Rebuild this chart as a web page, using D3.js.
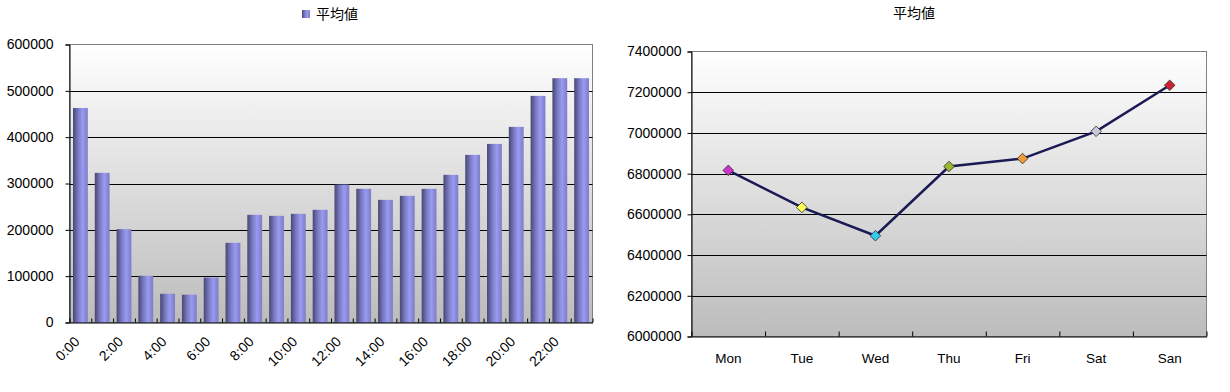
<!DOCTYPE html>
<html>
<head>
<meta charset="utf-8">
<script src="https://cdn.jsdelivr.net/npm/d3@7"></script>
<style>
  body { margin: 0; background: #fff; }
  text { font-family: "Liberation Sans", Arial, sans-serif; fill: #000; }
  .jp { font-family: "Noto Sans CJK JP", sans-serif; }
</style>
</head>
<body>
<svg id="chart"></svg>
<script>
// 時間帯別の平均値
const hours = ["0:00","1:00","2:00","3:00","4:00","5:00","6:00","7:00","8:00","9:00","10:00","11:00",
               "12:00","13:00","14:00","15:00","16:00","17:00","18:00","19:00","20:00","21:00","22:00","23:00"];
const hourlyAvg = [463000, 323000, 201500, 100800, 62000, 60000, 97000, 172000, 232400, 230200, 234500, 243200,
                   297800, 288500, 264700, 273400, 288500, 318700, 361800, 385500, 422200, 489100, 527300, 527300];
const leftTicks = [0, 100000, 200000, 300000, 400000, 500000, 600000];

// 曜日別の平均値
const days = ["Mon", "Tue", "Wed", "Thu", "Fri", "Sat", "San"];
const dailyAvg = [6816000, 6634000, 6495000, 6835000, 6874000, 7008000, 7234000];
const rightTicks = [6000000, 6200000, 6400000, 6600000, 6800000, 7000000, 7200000, 7400000];
const markerColors = ["#cc33cc", "#ffff55", "#33ccee", "#99b830", "#f09a3a", "#c8c8dc", "#cc2236"];

const seriesName = "平均値";

const width = 1230, height = 392;
const svg = d3.select("#chart").attr("width", width).attr("height", height);

// グラデーション
const defs = svg.append("defs");
const bg = defs.append("linearGradient").attr("id", "plotBg")
    .attr("x1", 0).attr("y1", 0).attr("x2", 0).attr("y2", 1);
bg.append("stop").attr("offset", "0%").attr("stop-color", "#ffffff");
bg.append("stop").attr("offset", "100%").attr("stop-color", "#bcbcbc");

const barGrad = defs.append("linearGradient").attr("id", "barFill")
    .attr("x1", 0).attr("y1", 0).attr("x2", 1).attr("y2", 0);
barGrad.append("stop").attr("offset", "0%").attr("stop-color", "#474772");
barGrad.append("stop").attr("offset", "35%").attr("stop-color", "#7a7ac4");
barGrad.append("stop").attr("offset", "65%").attr("stop-color", "#9a9af2");
barGrad.append("stop").attr("offset", "100%").attr("stop-color", "#7c7cc6");

// ===== 左: 棒グラフ =====
const L = { left: 69.5, right: 592.5, top: 44.5, bottom: 322.5 };

const xL = d3.scaleBand().domain(hours).range([L.left, L.right]).padding(0);
const xLidx = d3.scaleLinear().domain([0, hours.length]).range([L.left, L.right]);
const yL = d3.scaleLinear().domain([0, 600000]).range([L.bottom, L.top]);

svg.append("rect")
    .attr("x", L.left).attr("y", L.top)
    .attr("width", L.right - L.left).attr("height", L.bottom - L.top)
    .attr("fill", "url(#plotBg)")
    .attr("stroke", "#808080");

// グリッド線
svg.append("g")
    .selectAll("line")
    .data(leftTicks.filter(d => d > 0 && d < 600000))
    .join("line")
    .attr("x1", L.left).attr("x2", L.right)
    .attr("y1", d => Math.round(yL(d)) + 0.5).attr("y2", d => Math.round(yL(d)) + 0.5)
    .attr("stroke", "#000");

// 棒
const barW = xL.bandwidth() * 0.68;
svg.append("g")
    .selectAll("rect")
    .data(hourlyAvg)
    .join("rect")
    .attr("x", (d, i) => xL(hours[i]) + (xL.bandwidth() - barW) / 2)
    .attr("y", d => yL(d))
    .attr("width", barW)
    .attr("height", d => yL(0) - yL(d))
    .attr("fill", "url(#barFill)");

// y 軸
const yAxisL = svg.append("g")
    .attr("transform", `translate(${L.left},0)`)
    .call(d3.axisLeft(yL).tickValues(leftTicks).tickSize(4).tickPadding(12).tickFormat(d3.format("d")));
yAxisL.select(".domain").attr("stroke", "#000");
yAxisL.selectAll("text").attr("font-size", "14px");

// x 軸 (目盛りは区切り位置)
const xAxisL = svg.append("g")
    .attr("transform", `translate(0,${L.bottom})`)
    .call(d3.axisBottom(xLidx).tickValues(d3.range(0, hours.length + 1)).tickSize(-4).tickSizeOuter(0).tickFormat(""));
xAxisL.select(".domain").attr("stroke", "#000");

svg.append("g")
    .selectAll("text")
    .data(hours.filter((h, i) => i % 2 === 0))
    .join("text")
    .attr("text-anchor", "end")
    .attr("font-size", "14px")
    .attr("transform", h => `translate(${xL(h) + xL.bandwidth() / 2},${L.bottom + 20}) rotate(-45)`)
    .text(h => h);

// 凡例
const legend = svg.append("g").attr("transform", "translate(302,10)");
legend.append("rect").attr("width", 8).attr("height", 8).attr("fill", "url(#barFill)");
legend.append("text").attr("class", "jp").attr("x", 14).attr("y", 9)
    .attr("font-size", "14px").text(seriesName);

// ===== 右: 折れ線グラフ =====
const R = { left: 691.5, right: 1206.5, top: 51.5, bottom: 336.5 };

const xR = d3.scaleBand().domain(days).range([R.left, R.right]).padding(0);
const xRidx = d3.scaleLinear().domain([0, days.length]).range([R.left, R.right]);
const yR = d3.scaleLinear().domain([6000000, 7400000]).range([R.bottom, R.top]);

svg.append("rect")
    .attr("x", R.left).attr("y", R.top)
    .attr("width", R.right - R.left).attr("height", R.bottom - R.top)
    .attr("fill", "url(#plotBg)")
    .attr("stroke", "#808080");

svg.append("g")
    .selectAll("line")
    .data(rightTicks.filter(d => d > 6000000 && d < 7400000))
    .join("line")
    .attr("x1", R.left).attr("x2", R.right)
    .attr("y1", d => Math.round(yR(d)) + 0.5).attr("y2", d => Math.round(yR(d)) + 0.5)
    .attr("stroke", "#000");

const yAxisR = svg.append("g")
    .attr("transform", `translate(${R.left},0)`)
    .call(d3.axisLeft(yR).tickValues(rightTicks).tickSize(4).tickPadding(6).tickFormat(d3.format("d")));
yAxisR.select(".domain").attr("stroke", "#000");
yAxisR.selectAll("text").attr("font-size", "14px");

const xAxisR = svg.append("g")
    .attr("transform", `translate(0,${R.bottom})`)
    .call(d3.axisBottom(xRidx).tickValues(d3.range(0, days.length + 1)).tickSize(-5).tickSizeOuter(0).tickFormat(""));
xAxisR.select(".domain").attr("stroke", "#000");

svg.append("g")
    .selectAll("text")
    .data(days)
    .join("text")
    .attr("text-anchor", "middle")
    .attr("font-size", "13.5px")
    .attr("x", d => xR(d) + xR.bandwidth() / 2)
    .attr("y", R.bottom + 26)
    .text(d => d);

const line = d3.line()
    .x((d, i) => xR(days[i]) + xR.bandwidth() / 2)
    .y(d => yR(d));

svg.append("path")
    .datum(dailyAvg)
    .attr("fill", "none")
    .attr("stroke", "#1a1a55")
    .attr("stroke-width", 2.5)
    .attr("d", line);

svg.append("g")
    .selectAll("path")
    .data(dailyAvg)
    .join("path")
    .attr("d", d3.symbol(d3.symbolSquare, 56))
    .attr("transform", (d, i) => `translate(${xR(days[i]) + xR.bandwidth() / 2},${yR(d)}) rotate(45)`)
    .attr("fill", (d, i) => markerColors[i])
    .attr("stroke", "#333")
    .attr("stroke-width", 0.8);

svg.append("text")
    .attr("class", "jp")
    .attr("x", 914).attr("y", 18)
    .attr("text-anchor", "middle")
    .attr("font-size", "14px")
    .text(seriesName);
</script>
</body>
</html>
